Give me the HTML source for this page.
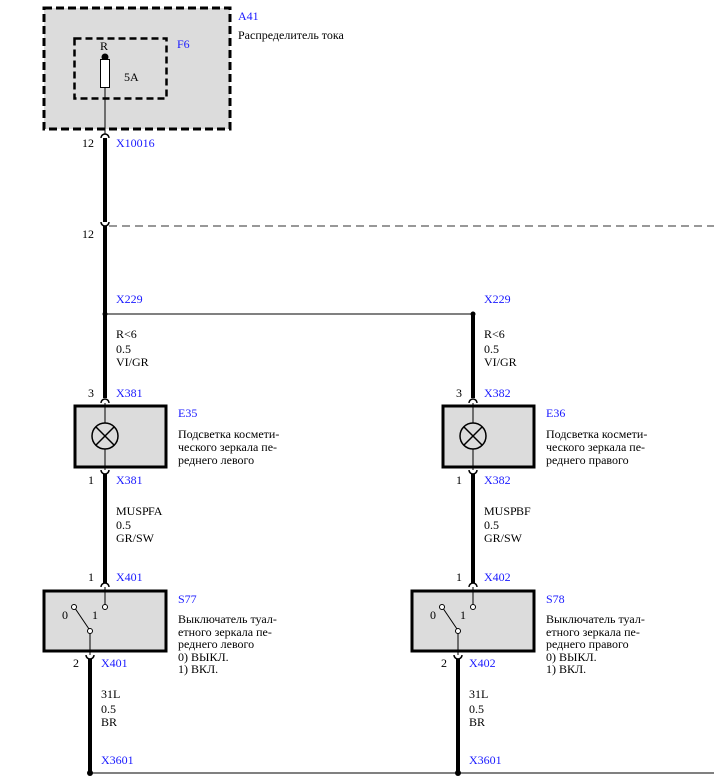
<!DOCTYPE html>
<html><head><meta charset="utf-8"><style>
html,body{margin:0;padding:0;background:#fff;}
svg{display:block;}
text{font-family:"Liberation Serif","DejaVu Serif",serif;font-size:12px;fill:#000;}
.b{fill:#1a1aff;}
</style></head><body>
<svg width="714" height="781" viewBox="0 0 714 781" xmlns="http://www.w3.org/2000/svg">
<!-- A41 -->
<rect x="44" y="8" width="186" height="121" fill="#dcdcdc" stroke="#000" stroke-width="3" stroke-dasharray="8,4"/>
<rect x="74.5" y="38.5" width="92" height="60" fill="none" stroke="#000" stroke-width="2.5" stroke-dasharray="7,4"/>
<text x="100" y="50">R</text>
<circle cx="105" cy="57" r="3.5" fill="#000"/>
<rect x="100.5" y="59.5" width="9" height="28" fill="#fff" stroke="#000" stroke-width="1"/>
<text x="124" y="81">5A</text>
<text x="238" y="20" class="b">A41</text>
<text x="238" y="39">Распределитель тока</text>
<text x="177" y="48" class="b">F6</text>
<line x1="105" y1="87" x2="105" y2="134" stroke="#000" stroke-width="1"/>
<path d="M101 138 A4 4 0 0 1 109 138" fill="none" stroke="#000" stroke-width="1.5"/>
<line x1="105" y1="138" x2="105" y2="222" stroke="#000" stroke-width="4"/>
<text x="82" y="147">12</text><text x="116" y="147" class="b">X10016</text>
<!-- dashed line -->
<path d="M101 222 A4 4 0 0 0 109 222" fill="none" stroke="#000" stroke-width="1.5"/>
<line x1="109" y1="226" x2="714" y2="226" stroke="#777" stroke-width="1.5" stroke-dasharray="8,5"/>
<line x1="105" y1="226" x2="105" y2="398" stroke="#000" stroke-width="4"/>
<text x="82" y="238">12</text>
<text x="116" y="303" class="b">X229</text>
<text x="484" y="303" class="b">X229</text>
<line x1="105" y1="314" x2="473" y2="314" stroke="#000" stroke-width="1"/>
<circle cx="105" cy="314" r="2.5" fill="#000"/><circle cx="473" cy="314" r="2.5" fill="#000"/>
<line x1="473" y1="314" x2="473" y2="398" stroke="#000" stroke-width="4"/>
<text x="116" y="338">R&lt;6</text><text x="116" y="353">0.5</text><text x="116" y="366">VI/GR</text>
<text x="484" y="338">R&lt;6</text><text x="484" y="353">0.5</text><text x="484" y="366">VI/GR</text>
<!-- E35 / E36 -->
<g id="e">
<text x="88" y="397">3</text>
<path d="M101 403 A4 4 0 0 1 109 403" fill="none" stroke="#000" stroke-width="1.5"/>
<rect x="75" y="406" width="91" height="61" fill="#dcdcdc" stroke="#000" stroke-width="3"/>
<line x1="105" y1="403" x2="105" y2="470" stroke="#000" stroke-width="1"/>
<circle cx="105" cy="436" r="13" fill="#dcdcdc" stroke="#000" stroke-width="1.5"/>
<line x1="96" y1="427" x2="114" y2="445" stroke="#000" stroke-width="1.5"/>
<line x1="114" y1="427" x2="96" y2="445" stroke="#000" stroke-width="1.5"/>
<path d="M101 470 A4 4 0 0 0 109 470" fill="none" stroke="#000" stroke-width="1.5"/>
<line x1="105" y1="474" x2="105" y2="583" stroke="#000" stroke-width="4"/>
<text x="88" y="484">1</text>
<text x="88" y="581">1</text>
<path d="M101 587 A4 4 0 0 1 109 587" fill="none" stroke="#000" stroke-width="1.5"/>
<text x="116" y="515">MUSP</text><text x="116" y="529">0.5</text><text x="116" y="542">GR/SW</text>
</g>
<use href="#e" x="368"/>
<text x="116" y="397" class="b">X381</text><text x="116" y="484" class="b">X381</text>
<text x="484" y="397" class="b">X382</text><text x="484" y="484" class="b">X382</text>
<rect x="150" y="503" width="0" height="0"/>
<text x="148" y="515" fill="#000">FA</text><text x="516" y="515">BF</text>
<text x="116" y="581" class="b">X401</text><text x="484" y="581" class="b">X402</text>
<text x="178" y="417" class="b">E35</text>
<text x="178" y="438">Подсветка космети-</text><text x="178" y="451">ческого зеркала пе-</text><text x="178" y="464">реднего левого</text>
<text x="546" y="417" class="b">E36</text>
<text x="546" y="438">Подсветка космети-</text><text x="546" y="451">ческого зеркала пе-</text><text x="546" y="464">реднего правого</text>
<!-- switches -->
<g id="s">
<rect x="44" y="591" width="122" height="60" fill="#dcdcdc" stroke="#000" stroke-width="3"/>
<line x1="105" y1="587" x2="105" y2="605" stroke="#000" stroke-width="1"/>
<circle cx="105" cy="607" r="2.5" fill="#fff" stroke="#000"/>
<circle cx="74" cy="607" r="2.5" fill="#fff" stroke="#000"/>
<line x1="75.5" y1="609" x2="89" y2="629" stroke="#000" stroke-width="1"/>
<circle cx="90" cy="631" r="2.5" fill="#fff" stroke="#000"/>
<line x1="90" y1="633.5" x2="90" y2="655" stroke="#000" stroke-width="1"/>
<text x="62" y="619">0</text><text x="92" y="619">1</text>
<path d="M86 655 A4 4 0 0 0 94 655" fill="none" stroke="#000" stroke-width="1.5"/>
<line x1="90" y1="659" x2="90" y2="773" stroke="#000" stroke-width="4"/>
<text x="73" y="667">2</text>
<text x="101" y="698">31L</text><text x="101" y="713">0.5</text><text x="101" y="726">BR</text>
<text x="101" y="764" class="b">X3601</text>
<circle cx="90" cy="773" r="3" fill="#000"/>
</g>
<use href="#s" x="368"/>
<text x="101" y="667" class="b">X401</text><text x="469" y="667" class="b">X402</text>
<line x1="90" y1="773" x2="714" y2="773" stroke="#000" stroke-width="1"/>
<text x="178" y="603" class="b">S77</text>
<text x="178" y="623">Выключатель туал-</text><text x="178" y="636">етного зеркала пе-</text><text x="178" y="648">реднего левого</text><text x="178" y="661">0) ВЫКЛ.</text><text x="178" y="673">1) ВКЛ.</text>
<text x="546" y="603" class="b">S78</text>
<text x="546" y="623">Выключатель туал-</text><text x="546" y="636">етного зеркала пе-</text><text x="546" y="648">реднего правого</text><text x="546" y="661">0) ВЫКЛ.</text><text x="546" y="673">1) ВКЛ.</text>
</svg>
</body></html>
